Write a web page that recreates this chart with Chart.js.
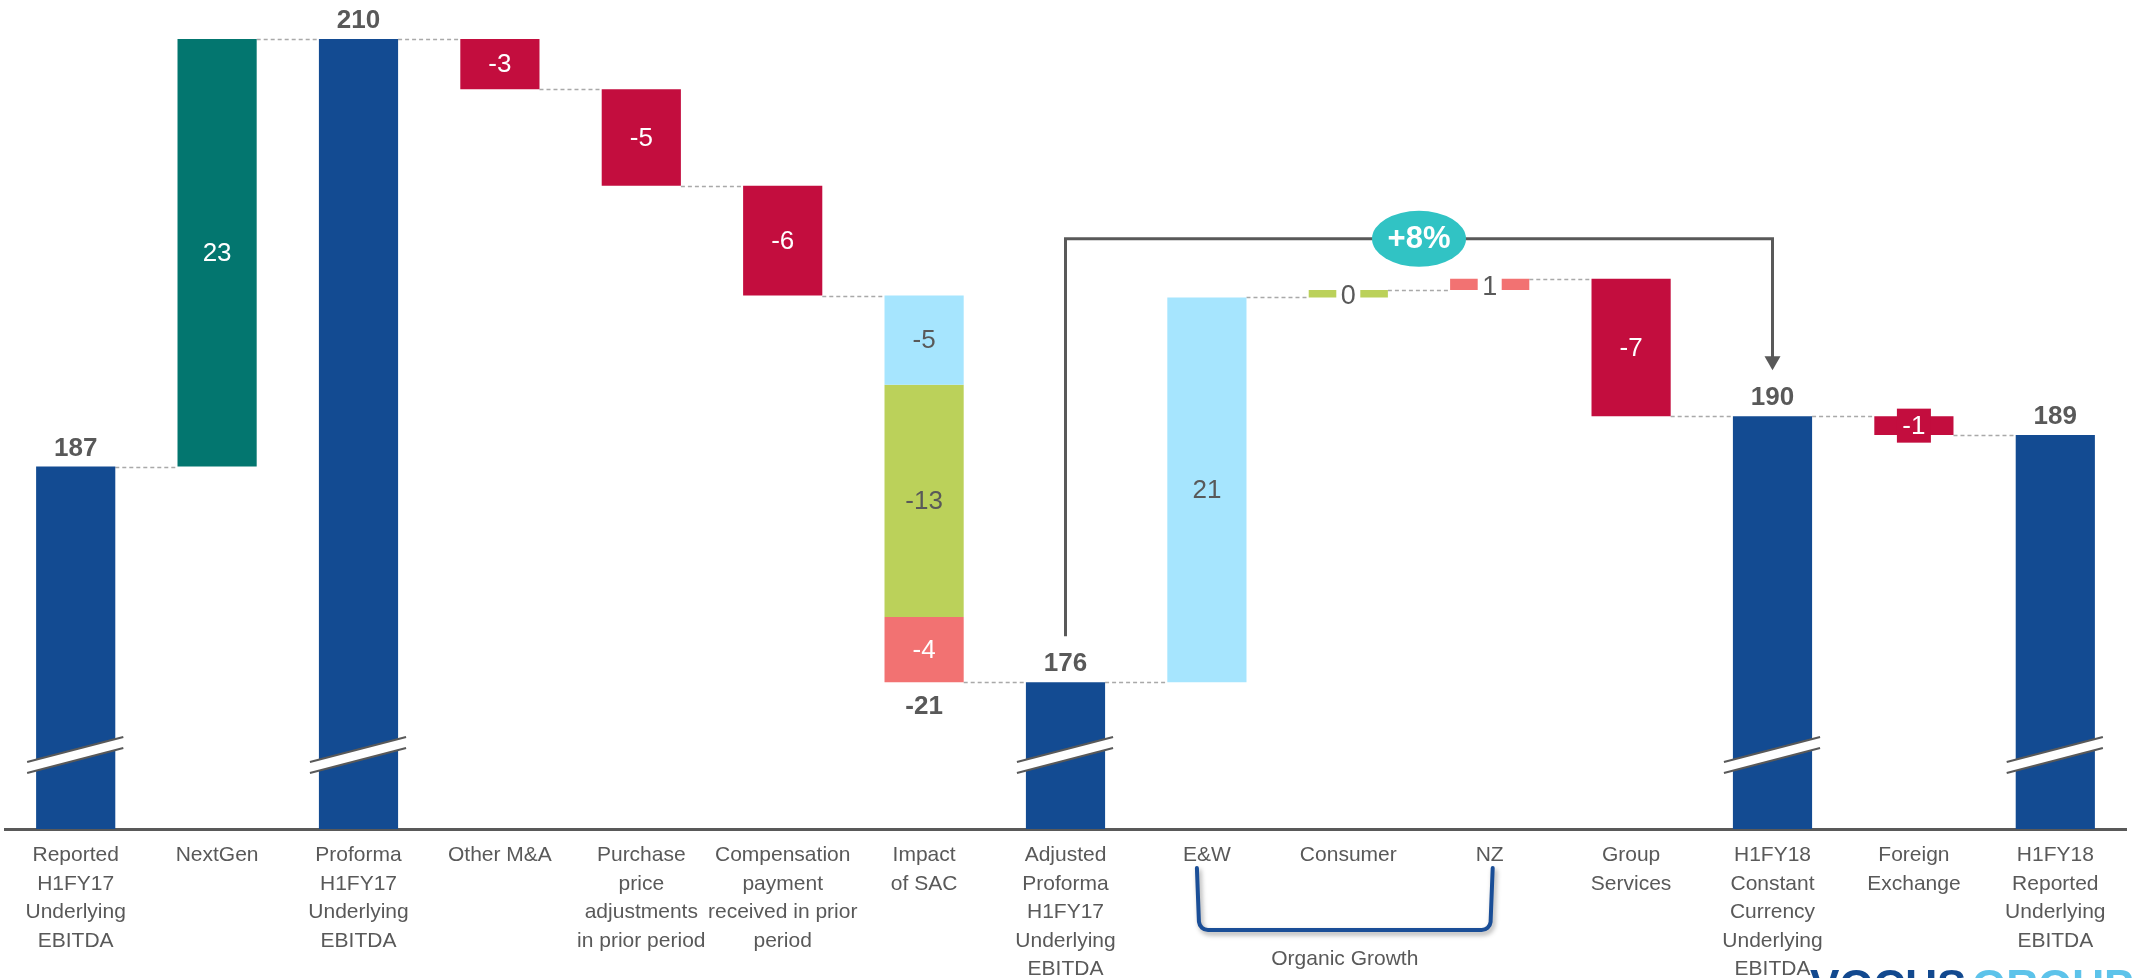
<!DOCTYPE html>
<html>
<head>
<meta charset="utf-8">
<script src="https://cdn.jsdelivr.net/npm/chart.js@4.4.1/dist/chart.umd.min.js"></script>
<style>
  html, body { margin: 0; padding: 0; background: #fff; }
  #wrap { position: relative; width: 2134px; height: 978px; }
</style>
</head>
<body>
<div id="wrap"><canvas id="ebitdaBridge"></canvas></div>
<script>
// Underlying EBITDA bridge, H1FY17 -> H1FY18 ($m)
const categories = [
  ['Reported', 'H1FY17', 'Underlying', 'EBITDA'],
  ['NextGen'],
  ['Proforma', 'H1FY17', 'Underlying', 'EBITDA'],
  ['Other M&A'],
  ['Purchase', 'price', 'adjustments', 'in prior period'],
  ['Compensation', 'payment', 'received in prior', 'period'],
  ['Impact', 'of SAC'],
  ['Adjusted', 'Proforma', 'H1FY17', 'Underlying', 'EBITDA'],
  ['E&W'],
  ['Consumer'],
  ['NZ'],
  ['Group', 'Services'],
  ['H1FY18', 'Constant', 'Currency', 'Underlying', 'EBITDA'],
  ['Foreign', 'Exchange'],
  ['H1FY18', 'Reported', 'Underlying', 'EBITDA']
];

// 'total' bars stand on the broken axis, 'step' bars float from the running level,
// 'split' is the SAC impact made of three stacked pieces
const barKinds = ['total', 'step', 'total', 'step', 'step', 'step', 'split', 'total',
                  'step', 'step', 'step', 'step', 'total', 'step', 'total'];
const openingValue = 187.4;
const stepValues = [null, 23.0, null, -2.7, -5.2, -5.9, null, null, 20.7, 0.4, 0.6, -7.4, null, -1.0, null];
const sacParts = [-4.8, -12.5, -3.5];

// how each value label is placed
const labelModes = ['above', 'inside', 'above', 'inside', 'inside', 'inside', 'split', 'above',
                    'inside', 'gap', 'gap', 'inside', 'above', 'box', 'above'];

const BLUE = '#134b92', TEAL = '#03766f', RED = '#c30d3e', SKY = '#a6e5fe',
      LIME = '#bbd15a', CORAL = '#f27272', GREY = '#595959';
const barColors = [BLUE, TEAL, BLUE, RED, RED, RED, null, BLUE, SKY, LIME, CORAL, RED, BLUE, RED, BLUE];
const sacColors = [SKY, LIME, CORAL];
const lightFills = [SKY, LIME];

const Y_FLOOR = 167.9, Y_TOP = 212.5;
const FONT = "'Liberation Sans', Arial, sans-serif";

// walk the bridge to get floating [from, to] ranges
const ranges = [];
const sacRanges = [];
const endLevels = [];
let level = openingValue;
barKinds.forEach((kind, i) => {
  if (kind === 'total') {
    ranges.push([Y_FLOOR, level]);
  } else if (kind === 'step') {
    ranges.push([level, level + stepValues[i]]);
    level += stepValues[i];
  } else {
    ranges.push(null);
    sacParts.forEach(p => { sacRanges.push([level, level + p]); level += p; });
  }
  endLevels.push(level);
});

const sacIndex = barKinds.indexOf('split');
const sacDatasets = sacParts.map((p, k) => ({
  label: 'SAC ' + (k + 1),
  data: categories.map((c, i) => (i === sacIndex ? sacRanges[k] : null)),
  backgroundColor: sacColors[k],
  grouped: false,
  barPercentage: 0.56,
  categoryPercentage: 1.0
}));

// round half away from zero, as the spreadsheet does
function fmt(v) {
  const r = Math.sign(v) * Math.round(Math.abs(v));
  return (r === 0 ? 0 : r).toString();
}

// dashed connectors between neighbouring bars
const connectorPlugin = {
  id: 'connectors',
  beforeDatasetsDraw(chart) {
    const ctx = chart.ctx, y = chart.scales.y;
    const main = chart.getDatasetMeta(0).data;
    const sac = chart.getDatasetMeta(1).data[sacIndex];
    ctx.save();
    ctx.strokeStyle = '#a9a9a9';
    ctx.lineWidth = 1.5;
    ctx.setLineDash([4, 3]);
    for (let i = 0; i < categories.length - 1; i++) {
      const a = i === sacIndex ? sac : main[i];
      const b = i + 1 === sacIndex ? sac : main[i + 1];
      const py = Math.round(y.getPixelForValue(endLevels[i])) + 0.5;
      ctx.beginPath();
      ctx.moveTo(a.x + a.width / 2, py);
      ctx.lineTo(b.x - b.width / 2, py);
      ctx.stroke();
    }
    ctx.restore();
  }
};

// value labels, axis breaks, growth bracket and footer
const annotationPlugin = {
  id: 'annotations',
  afterDatasetsDraw(chart) {
    const ctx = chart.ctx, area = chart.chartArea;
    const main = chart.getDatasetMeta(0).data;

    ctx.save();
    ctx.textAlign = 'center';

    // breaks on the total bars
    barKinds.forEach((kind, i) => {
      if (kind !== 'total') return;
      const bar = main[i];
      const l = bar.x - bar.width / 2 - 9, r = bar.x + bar.width / 2 + 8;
      const b = area.bottom;
      ctx.beginPath();
      ctx.moveTo(l, b - 67); ctx.lineTo(r, b - 92);
      ctx.lineTo(r, b - 81); ctx.lineTo(l, b - 56);
      ctx.closePath();
      ctx.fillStyle = '#fff';
      ctx.fill();
      ctx.strokeStyle = GREY;
      ctx.lineWidth = 2;
      ctx.beginPath(); ctx.moveTo(l, b - 67); ctx.lineTo(r, b - 92); ctx.stroke();
      ctx.beginPath(); ctx.moveTo(l, b - 56); ctx.lineTo(r, b - 81); ctx.stroke();
    });

    // value labels
    categories.forEach((c, i) => {
      const mode = labelModes[i];
      const bar = main[i];
      if (mode === 'above') {
        ctx.font = 'bold 26px ' + FONT;
        ctx.fillStyle = GREY;
        ctx.textBaseline = 'alphabetic';
        ctx.fillText(fmt(ranges[i][1]), bar.x, bar.y - 11);
      } else if (mode === 'inside') {
        const mid = (bar.y + bar.base) / 2;
        ctx.font = '26px ' + FONT;
        ctx.fillStyle = lightFills.includes(barColors[i]) ? GREY : '#fff';
        ctx.textBaseline = 'middle';
        ctx.fillText(fmt(stepValues[i]), bar.x, mid + 1);
      } else if (mode === 'gap') {
        const mid = (bar.y + bar.base) / 2;
        ctx.fillStyle = '#fff';
        ctx.fillRect(bar.x - 12, mid - 8, 24, 16);
        ctx.font = '27px ' + FONT;
        ctx.fillStyle = GREY;
        ctx.textBaseline = 'middle';
        ctx.fillText(fmt(stepValues[i]), bar.x, mid + 3);
      } else if (mode === 'box') {
        const mid = (bar.y + bar.base) / 2;
        ctx.fillStyle = barColors[i];
        ctx.fillRect(bar.x - 17, mid - 17, 34, 34);
        ctx.font = '26px ' + FONT;
        ctx.fillStyle = '#fff';
        ctx.textBaseline = 'middle';
        ctx.fillText(fmt(stepValues[i]), bar.x, mid + 1);
      } else if (mode === 'split') {
        sacParts.forEach((p, k) => {
          const seg = chart.getDatasetMeta(k + 1).data[i];
          const mid = (seg.y + seg.base) / 2;
          ctx.font = '26px ' + FONT;
          ctx.fillStyle = lightFills.includes(sacColors[k]) ? GREY : '#fff';
          ctx.textBaseline = 'middle';
          ctx.fillText(fmt(p), seg.x, mid + 1);
        });
        const last = chart.getDatasetMeta(sacParts.length).data[i];
        const total = sacParts.reduce((s, p) => s + p, 0);
        ctx.font = 'bold 26px ' + FONT;
        ctx.fillStyle = GREY;
        ctx.textBaseline = 'alphabetic';
        ctx.fillText(fmt(total), last.x, Math.max(last.y, last.base) + 32);
      }
    });

    // growth bracket from adjusted proforma to constant currency total
    const from = barKinds.indexOf('total', sacIndex);
    const to = barKinds.indexOf('total', from + 1);
    const a = main[from], b = main[to];
    let highest = Infinity;
    for (let i = from + 1; i < to; i++) highest = Math.min(highest, main[i].y, main[i].base);
    const topY = highest - 40;
    const growth = (ranges[to][1] / ranges[from][1] - 1) * 100;
    ctx.strokeStyle = GREY;
    ctx.fillStyle = GREY;
    ctx.lineWidth = 3;
    ctx.setLineDash([]);
    ctx.beginPath();
    ctx.moveTo(a.x, a.y - 46);
    ctx.lineTo(a.x, topY);
    ctx.lineTo(b.x, topY);
    ctx.lineTo(b.x, b.y - 58);
    ctx.stroke();
    ctx.beginPath();
    ctx.moveTo(b.x - 8, b.y - 60);
    ctx.lineTo(b.x + 8, b.y - 60);
    ctx.lineTo(b.x, b.y - 46);
    ctx.closePath();
    ctx.fill();

    const cx = (a.x + b.x) / 2;
    ctx.fillStyle = '#31c3c4';
    ctx.beginPath();
    ctx.ellipse(cx, topY, 47, 28, 0, 0, Math.PI * 2);
    ctx.fill();
    ctx.fillStyle = '#fff';
    ctx.font = 'bold 31px ' + FONT;
    ctx.textBaseline = 'middle';
    ctx.fillText('+' + Math.round(growth) + '%', cx, topY + 1);

    ctx.restore();
  },
  afterDraw(chart) {
    const ctx = chart.ctx;
    const main = chart.getDatasetMeta(0).data;
    const first = main[categories.findIndex(c => c[0] === 'E&W')];
    const last = main[categories.findIndex(c => c[0] === 'NZ')];
    const bottom = chart.chartArea.bottom;

    // Organic Growth brace under E&W, Consumer and NZ
    ctx.save();
    const l = first.x - 10, r = last.x + 3, t = bottom + 39, btm = bottom + 101, rad = 9;
    ctx.shadowColor = 'rgba(0,0,0,0.35)';
    ctx.shadowBlur = 5;
    ctx.shadowOffsetX = 2;
    ctx.shadowOffsetY = 3;
    ctx.strokeStyle = '#1a4e97';
    ctx.lineWidth = 4;
    ctx.lineCap = 'round';
    ctx.beginPath();
    ctx.moveTo(l, t);
    ctx.lineTo(l + 2, btm - rad);
    ctx.arcTo(l + 3, btm, l + 3 + rad, btm, rad);
    ctx.lineTo(r - 3 - rad, btm);
    ctx.arcTo(r - 3, btm, r - 2, btm - rad, rad);
    ctx.lineTo(r, t);
    ctx.stroke();
    ctx.restore();

    ctx.save();
    ctx.font = '21px ' + FONT;
    ctx.fillStyle = GREY;
    ctx.textAlign = 'center';
    ctx.textBaseline = 'middle';
    ctx.fillText('Organic Growth', (l + r) / 2, btm + 29);

    // company wordmark at the foot of the page
    ctx.textAlign = 'left';
    ctx.textBaseline = 'alphabetic';
    ctx.font = 'bold 44px ' + FONT;
    ctx.fillStyle = '#12498f';
    ctx.fillText('VOCUS', 1810, 1001);
    ctx.fillStyle = '#5dc3ea';
    ctx.fillText('GROUP', 1972, 1001);
    ctx.restore();
  }
};

const canvas = document.getElementById('ebitdaBridge');
new Chart(canvas.getContext('2d'), {
  type: 'bar',
  data: {
    labels: categories,
    datasets: [{
      label: 'Bridge',
      data: ranges,
      backgroundColor: barColors,
      grouped: false,
      barPercentage: 0.56,
      categoryPercentage: 1.0
    }].concat(sacDatasets)
  },
  options: {
    responsive: true,
    maintainAspectRatio: false,
    animation: false,
    layout: { padding: { left: 5, right: 8, top: 0, bottom: 0 } },
    plugins: {
      legend: { display: false },
      tooltip: { enabled: false }
    },
    scales: {
      x: {
        grid: { display: false, drawTicks: false },
        border: { display: true, color: GREY, width: 3 },
        ticks: {
          autoSkip: false,
          maxRotation: 0,
          minRotation: 0,
          padding: 12,
          color: GREY,
          font: { family: FONT, size: 21, lineHeight: 1.357 }
        },
        afterFit(scale) { scale.height = 149; }
      },
      y: {
        display: false,
        min: Y_FLOOR,
        max: Y_TOP
      }
    }
  },
  plugins: [connectorPlugin, annotationPlugin]
});
</script>
</body>
</html>
